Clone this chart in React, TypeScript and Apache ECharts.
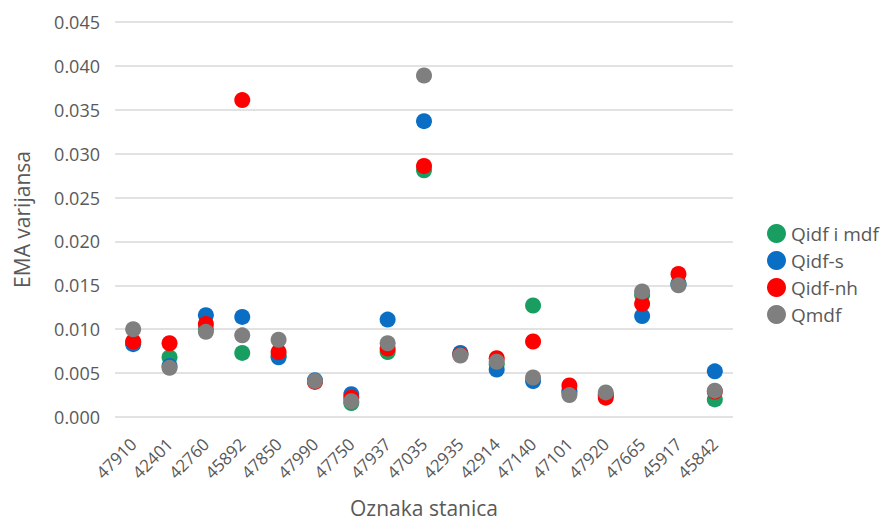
import React, { useEffect, useRef } from "react";
import * as echarts from "echarts";

const stations = ["47910","42401","42760","45892","47850","47990","47750","47937","47035","42935","42914","47140","47101","47920","47665","45917","45842"];
const qidfIMdf = [0.0085,0.0068,0.0100,0.0073,0.0070,0.0041,0.0016,0.0074,0.0281,0.0072,0.0060,0.0127,0.0028,0.0025,0.0139,0.0152,0.0020];
const qidfS = [0.0083,0.0058,0.0116,0.0114,0.0068,0.0042,0.0026,0.0111,0.0337,0.0073,0.0054,0.0041,0.0030,0.0025,0.0115,0.0151,0.0052];
const qidfNh = [0.0086,0.0084,0.0106,0.0361,0.0074,0.0040,0.0022,0.0078,0.0286,0.0071,0.0067,0.0086,0.0036,0.0022,0.0129,0.0163,0.0029];
const qmdf = [0.0100,0.0056,0.0097,0.0093,0.0088,0.0041,0.0018,0.0084,0.0389,0.0070,0.0063,0.0045,0.0025,0.0028,0.0143,0.0150,0.0030];
const yTicks = [0, 0.005, 0.01, 0.015, 0.02, 0.025, 0.03, 0.035, 0.04, 0.045];

const seriesDefs = [
  { name: "Qidf i mdf", data: qidfIMdf, color: "#199e62" },
  { name: "Qidf-s", data: qidfS, color: "#0a6fc4" },
  { name: "Qidf-nh", data: qidfNh, color: "#ff0000" },
  { name: "Qmdf", data: qmdf, color: "#7f7f7f" },
];

const FONT = "'Open Sans', 'Noto Sans', sans-serif";

export default function App() {
  const ref = useRef<HTMLDivElement>(null);
  useEffect(() => {
    const chart = echarts.init(ref.current!, null, { renderer: "svg" });
    chart.setOption({
      animation: false,
      backgroundColor: "#ffffff",
      textStyle: { fontFamily: FONT },
      grid: { left: 115, right: 154, top: 22, bottom: 110 },
      legend: {
        orient: "vertical",
        left: 762,
        top: 219,
        icon: "circle",
        itemWidth: 19,
        itemHeight: 19,
        itemGap: 8,
        textStyle: { fontSize: 19, color: "#595959", fontFamily: FONT },
        data: seriesDefs.map((s) => s.name),
      },
      xAxis: {
        type: "category",
        data: stations,
        axisLine: { show: false },
        axisTick: { show: false },
        axisLabel: { rotate: 45, fontSize: 17, color: "#595959", margin: 24, interval: 0 },
        name: "Oznaka stanica",
        nameLocation: "middle",
        nameGap: 80,
        nameTextStyle: { fontSize: 21, color: "#595959" },
      },
      yAxis: {
        type: "value",
        min: 0,
        max: yTicks[yTicks.length - 1],
        interval: 0.005,
        axisLabel: { fontSize: 18, color: "#595959", margin: 15, formatter: (v: number) => v.toFixed(3) },
        splitLine: { lineStyle: { color: "#d9d9d9", width: 1.5 } },
        name: "EMA varijansa",
        nameLocation: "middle",
        nameGap: 83,
        nameTextStyle: { fontSize: 21, color: "#595959" },
      },
      series: seriesDefs.map((s) => ({
        name: s.name,
        type: "scatter",
        symbol: "circle",
        symbolSize: 16,
        itemStyle: { color: s.color, opacity: 1 },
        data: s.data,
      })),
    });
    return () => chart.dispose();
  }, []);
  return <div ref={ref} style={{ width: 887, height: 527, position: "absolute", left: 0, top: 0 }} />;
}
